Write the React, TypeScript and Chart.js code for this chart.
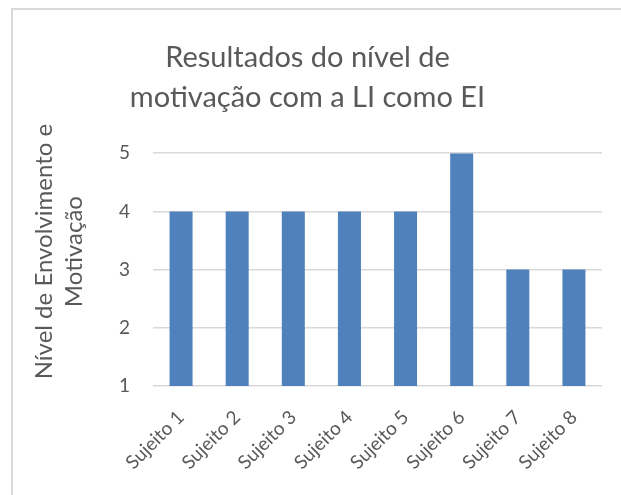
import React, { useEffect, useRef } from "react";
import { Chart, registerables } from "chart.js";

Chart.register(...registerables);

const categories = ["Sujeito 1", "Sujeito 2", "Sujeito 3", "Sujeito 4", "Sujeito 5", "Sujeito 6", "Sujeito 7", "Sujeito 8"];
const values = [4, 4, 4, 4, 4, 5, 3, 3];
const yTicks = [1, 2, 3, 4, 5];
const titleLines = ["Resultados do nível de", "motivação com a LI como EI"];
const yTitleLines = ["Nível de Envolvimento e", "Motivação"];

const FONT = "Lato, 'Open Sans', sans-serif";
const TEXT = "#595959";

const yTitlePlugin = {
  id: "yTitlePlugin",
  afterDraw(chart: any) {
    const { ctx, chartArea } = chart;
    ctx.save();
    ctx.fillStyle = TEXT;
    ctx.font = `24px ${FONT}`;
    ctx.textAlign = "center";
    ctx.textBaseline = "middle";
    const cy = (chartArea.top + chartArea.bottom) / 2 - 18;
    yTitleLines.forEach((line, i) => {
      ctx.save();
      ctx.translate(31 + i * 30, cy);
      ctx.rotate(-Math.PI / 2);
      ctx.fillText(line, 0, 0);
      ctx.restore();
    });
    ctx.restore();
  },
};

export default function App() {
  const ref = useRef<HTMLCanvasElement | null>(null);
  useEffect(() => {
    if (!ref.current) return;
    const chart = new Chart(ref.current, {
      type: "bar",
      data: {
        labels: categories,
        datasets: [
          {
            data: values,
            backgroundColor: "#4F81BD",
            borderWidth: 0,
            barPercentage: 0.41,
            categoryPercentage: 1,
          },
        ],
      },
      options: {
        animation: false,
        responsive: true,
        maintainAspectRatio: false,
        layout: { padding: { left: 0, right: 19, top: 0, bottom: 0 } },
        plugins: {
          legend: { display: false },
          tooltip: { enabled: false },
          title: {
            display: true,
            text: titleLines,
            color: TEXT,
            font: { family: FONT, size: 29, weight: "normal", lineHeight: 1.4 },
            padding: { top: 27, bottom: 35 },
          },
        },
        scales: {
          x: {
            grid: { display: false },
            border: { display: false },
            ticks: {
              color: TEXT,
              font: { family: FONT, size: 19 },
              minRotation: 45,
              maxRotation: 45,
              padding: 12,
            },
            afterFit: (scale: any) => {
              scale.height = 109;
            },
          },
          y: {
            min: 1,
            max: 5,
            grid: { color: "#D9D9D9", lineWidth: 1.5, drawTicks: false },
            border: { display: false },
            ticks: {
              color: TEXT,
              font: { family: FONT, size: 19 },
              padding: 23,
              stepSize: 1,
            },
            afterBuildTicks: (scale: any) => {
              scale.ticks = yTicks.map((v) => ({ value: v }));
            },
            afterFit: (scale: any) => {
              scale.width = 140;
            },
          },
        },
      },
      plugins: [yTitlePlugin],
    });
    return () => chart.destroy();
  }, []);

  return (
    <div
      style={{
        position: "fixed",
        left: 11,
        top: 8,
        width: 610,
        height: 487,
        boxSizing: "border-box",
        borderLeft: "2px solid #D9D9D9",
        borderTop: "2px solid #D9D9D9",
        background: "#fff",
      }}
    >
      <div style={{ position: "relative", width: "100%", height: "100%" }}>
        <canvas ref={ref} />
      </div>
    </div>
  );
}
